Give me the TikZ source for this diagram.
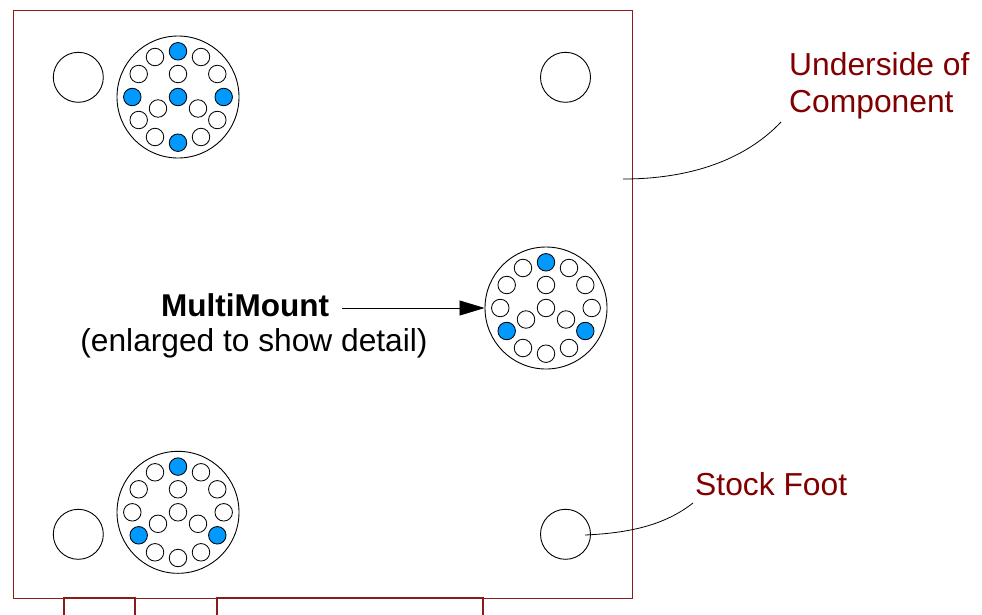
\documentclass[tikz,border=0pt]{standalone}
\usepackage{fontspec}
\setmainfont{Liberation Sans}
\usetikzlibrary{arrows.meta}
\definecolor{boxred}{HTML}{8B1A1A}
\definecolor{labelred}{HTML}{800000}
\definecolor{holeblue}{HTML}{0099FF}
\tikzset{
  x=1pt,y=-1pt,
  outline/.style={draw=boxred,line width=0.9pt},
  tabline/.style={draw=boxred,line width=1.1pt},
  mountdisc/.style={circle,draw=black,line width=0.9pt,fill=white,minimum size=122pt,inner sep=0pt},
  stockfoot/.style={circle,draw=black,line width=0.9pt,fill=white,minimum size=50pt,inner sep=0pt},
  hole/.style={circle,draw=black,line width=0.85pt,fill=white,minimum size=17.5pt,inner sep=0pt},
  bluehole/.style={hole,fill=holeblue},
  leader/.style={draw=black,line width=0.8pt},
  calllabel/.style={text=labelred,font=\fontsize{31.8}{37}\selectfont,inner sep=0pt},
  mainlabel/.style={text=black,font=\fontsize{31.7}{37}\selectfont,inner sep=0pt},
}
\newcommand{\mountunit}[6]{%
  \node[mountdisc] (#1) at (#2,#3) {};
  \foreach \n/\dx/\dy in {a/-23/-40,b/23/-40,c/-39.3/-23,d/39.3/-23,e/0/-23,f/-20/11.5,g/20/11.5,h/-23/40,i/23/40}
    \node[hole] (#1-\n) at (#2+\dx,#3+\dy) {};
  \node[bluehole] (#1-top) at (#2,#3-45.7) {};
  \node[#4] (#1-left) at (#2-45.7,#3) {};
  \node[#5] (#1-right) at (#2+45.7,#3) {};
  \node[#6] (#1-mid) at (#2,#3) {};
}
\begin{document}
\begin{tikzpicture}
\useasboundingbox (0,0) rectangle (982,614);
\draw[outline] (13,10) rectangle (632,598);
\draw[tabline] (64,616) -- (64,598) -- (135,598) -- (135,616);
\draw[tabline] (217,616) -- (217,598) -- (483,598) -- (483,616);

\node[stockfoot] (footTL) at (78.3,77.3) {};
\node[stockfoot] (footTR) at (565.5,77.3) {};
\node[stockfoot] (footBL) at (78.3,534.3) {};
\node[stockfoot] (footBR) at (565.5,534.3) {};

\mountunit{mtop}{178}{97}{bluehole}{bluehole}{bluehole}
\node[hole] (mtop-j) at (178-39.3,97+23) {};
\node[hole] (mtop-k) at (178+39.3,97+23) {};
\node[bluehole] (mtop-bottom) at (178,97+45.7) {};

\mountunit{mmid}{546}{308}{hole}{hole}{hole}
\node[bluehole] (mmid-j) at (546-39.3,308+23) {};
\node[bluehole] (mmid-k) at (546+39.3,308+23) {};
\node[hole] (mmid-l) at (546,308+45.7) {};

\mountunit{mbot}{178}{512.3}{hole}{hole}{hole}
\node[bluehole] (mbot-j) at (178-39.3,512.3+23) {};
\node[bluehole] (mbot-k) at (178+39.3,512.3+23) {};
\node[hole] (mbot-l) at (178,512.3+45.7) {};

\node[calllabel,anchor=base west] (undersideLabel) at (789,75) {Underside of};
\node[calllabel,anchor=base west] (componentLabel) at (789,112) {Component};
\node[calllabel,anchor=base west] (stockLabel) at (695,495) {Stock Foot};
\node[mainlabel,anchor=base,font=\fontsize{31.5}{37}\selectfont\bfseries] (mmLabel) at (245,316) {MultiMount};
\node[mainlabel,anchor=base] (detailLabel) at (254,351) {(enlarged to show detail)};

\coordinate (underEnd) at (623,179);
\coordinate (underStart) at (781,122);
\coordinate (stockStart) at (693,503);
\coordinate (stockEnd) at (585,535);
\draw[leader] (underEnd) .. controls (690,179) and (745,160) .. (underStart);
\draw[leader] (stockEnd) .. controls (630,533) and (665,525) .. (stockStart);
\coordinate (arrowStart) at (342,308);
\draw[leader,-{Triangle[length=25pt,width=15pt]}] (arrowStart) -- (mmid.west);
\end{tikzpicture}
\end{document}
